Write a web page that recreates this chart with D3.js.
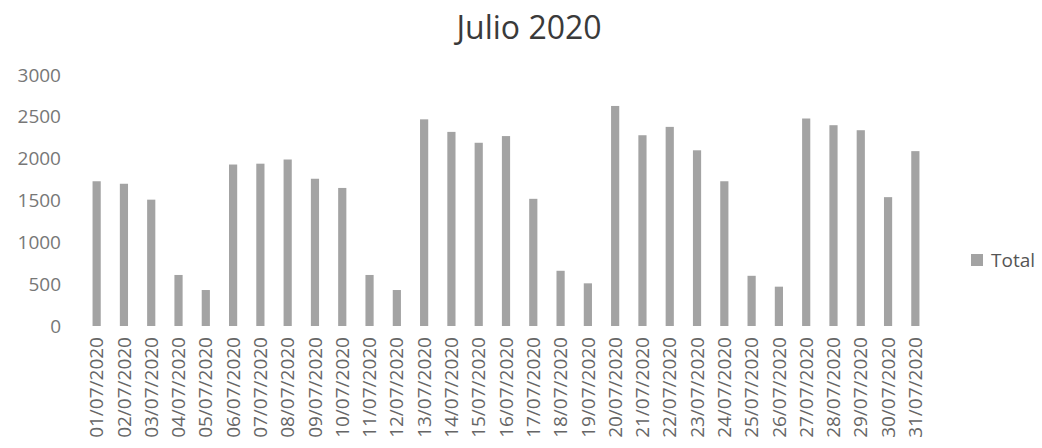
<!DOCTYPE html>
<html>
<head>
<meta charset="utf-8">
<script src="https://cdn.jsdelivr.net/npm/d3@7"></script>
<style>
  body { margin: 0; background: #fff; }
  text { font-family: "Open Sans", sans-serif; }
</style>
</head>
<body>
<div id="chart"></div>
<script>
// data
const dates = ["01/07/2020","02/07/2020","03/07/2020","04/07/2020","05/07/2020","06/07/2020","07/07/2020",
  "08/07/2020","09/07/2020","10/07/2020","11/07/2020","12/07/2020","13/07/2020","14/07/2020","15/07/2020",
  "16/07/2020","17/07/2020","18/07/2020","19/07/2020","20/07/2020","21/07/2020","22/07/2020","23/07/2020",
  "24/07/2020","25/07/2020","26/07/2020","27/07/2020","28/07/2020","29/07/2020","30/07/2020","31/07/2020"];
const totals = [1730,1700,1510,610,430,1930,1940,1990,1760,1650,610,430,2470,2320,2190,2270,1520,660,510,
  2630,2280,2380,2100,1730,600,470,2480,2400,2340,1540,2090];
const yTicks = [0,500,1000,1500,2000,2500,3000];
const seriesName = "Total";
const title = "Julio 2020";

const W = 1042, H = 448;
const svg = d3.select("#chart").append("svg")
    .attr("width", W)
    .attr("height", H);

const x = d3.scaleBand()
    .domain(dates)
    .range([83, 929])
    .paddingInner(0.7)
    .paddingOuter(0.35);

const y = d3.scaleLinear()
    .domain([0, 3000])
    .range([326, 75]);

// title
svg.append("text")
    .attr("x", 529)
    .attr("y", 39)
    .attr("text-anchor", "middle")
    .style("font-size", "32px")
    .style("fill", "#3a3a3a")
    .text(title);

// y axis labels (no line, no gridlines)
svg.selectAll(".ytick")
    .data(yTicks)
    .enter().append("text")
    .attr("class", "ytick")
    .attr("x", 61)
    .attr("y", d => y(d))
    .attr("dy", "0.35em")
    .attr("text-anchor", "end")
    .style("font-size", "19px")
    .style("fill", "#777")
    .text(d => d);

// bars
svg.selectAll("rect.bar")
    .data(dates)
    .enter().append("rect")
    .attr("class", "bar")
    .attr("x", d => x(d))
    .attr("width", x.bandwidth())
    .attr("y", (d, i) => y(totals[i]))
    .attr("height", (d, i) => y(0) - y(totals[i]))
    .attr("fill", "#a3a3a3");

// x labels, rotated
svg.selectAll(".xlab")
    .data(dates)
    .enter().append("text")
    .attr("class", "xlab")
    .attr("transform", d => `translate(${x(d) + x.bandwidth() / 2},337) rotate(-90)`)
    .attr("dy", "0.35em")
    .attr("text-anchor", "end")
    .style("font-size", "19px")
    .style("fill", "#666")
    .text(d => d);

// legend
const lg = svg.append("g").attr("transform", "translate(971,254)");
lg.append("rect")
    .attr("width", 12)
    .attr("height", 12)
    .attr("fill", "#a3a3a3");
lg.append("text")
    .attr("x", 20)
    .attr("y", 6)
    .attr("dy", "0.35em")
    .style("font-size", "19px")
    .style("fill", "#555")
    .text(seriesName);
</script>
</body>
</html>
